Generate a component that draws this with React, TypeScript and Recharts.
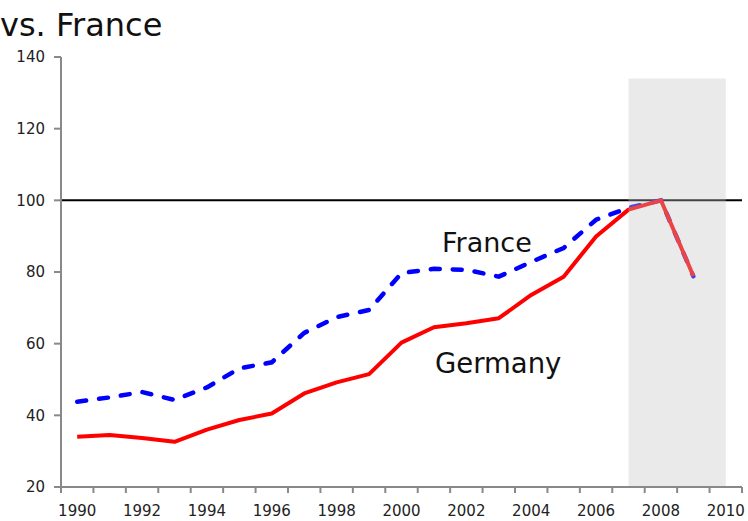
import React from 'react';
import { LineChart, Line, XAxis, YAxis, ReferenceArea, ReferenceLine } from 'recharts';

const years = [1990, 1991, 1992, 1993, 1994, 1995, 1996, 1997, 1998, 1999, 2000, 2001, 2002, 2003, 2004, 2005, 2006, 2007, 2008, 2009, 2010];
const germany = [34.0, 34.5, 33.7, 32.6, 36.0, 38.7, 40.5, 46.1, 49.2, 51.5, 60.3, 64.6, 65.7, 67.1, 73.6, 78.7, 89.9, 97.4, 100, 78.9, null];
const france = [43.8, 45.0, 46.5, 44.3, 47.8, 53.1, 54.8, 63.0, 67.4, 69.4, 79.7, 80.9, 80.6, 78.7, 82.8, 86.7, 94.6, 97.9, 100, 78.8, null];
const yTicks = [20, 40, 60, 80, 100, 120, 140];
const xLabelTicks = [1990, 1992, 1994, 1996, 1998, 2000, 2002, 2004, 2006, 2008, 2010];
const xBoundaryTicks = [...years.map((y) => y - 0.5), 2010.5];
const shadeStart = 2007;
const shadeEnd = 2010;
const shadeTop = 134;
const baseline = 100;

const data = years.map((year, i) => ({ year, germany: germany[i], france: france[i] }));

const FONT = '"DejaVu Sans", sans-serif';
const AXIS = '#898989';

export default function App() {
  return (
    <div style={{ position: 'absolute', left: 0, top: 0, width: 748, height: 521, background: '#fff' }}>
      <LineChart width={748} height={521} data={data} margin={{ top: 57, right: 6, bottom: 4, left: 0 }}>
        <XAxis
          xAxisId="grid"
          type="number"
          dataKey="year"
          domain={[1989.5, 2010.5]}
          ticks={xBoundaryTicks}
          interval={0}
          height={1}
          tickSize={6}
          tickFormatter={() => ''}
          axisLine={{ stroke: AXIS, strokeWidth: 2 }}
          tickLine={{ stroke: AXIS, strokeWidth: 2 }}
        />
        <XAxis
          xAxisId="yr"
          type="number"
          dataKey="year"
          domain={[1989.5, 2010.5]}
          ticks={xLabelTicks}
          interval={0}
          height={29}
          tickSize={6}
          tickMargin={11}
          axisLine={false}
          tickLine={false}
          tick={{ fontSize: 15, fill: '#222', fontFamily: FONT }}
        />
        <YAxis
          width={61}
          domain={[20, 140]}
          ticks={yTicks}
          interval={0}
          tickSize={7}
          tickMargin={9}
          axisLine={{ stroke: AXIS, strokeWidth: 2 }}
          tickLine={{ stroke: AXIS, strokeWidth: 2 }}
          tick={{ fontSize: 15, fill: '#222', fontFamily: FONT }}
        />
        <ReferenceLine xAxisId="yr" y={baseline} stroke="#000" strokeWidth={2} />
        <Line
          xAxisId="yr"
          type="linear"
          dataKey="france"
          stroke="#0000ff"
          strokeWidth={4.5}
          strokeDasharray="9 13"
          strokeLinecap="round"
          dot={false}
          isAnimationActive={false}
        />
        <Line
          xAxisId="yr"
          type="linear"
          dataKey="germany"
          stroke="#ff0000"
          strokeWidth={4}
          strokeLinejoin="round"
          dot={false}
          isAnimationActive={false}
        />
        <ReferenceArea
          xAxisId="yr"
          x1={shadeStart}
          x2={shadeEnd}
          y1={20}
          y2={shadeTop}
          fill="#c2c2c2"
          fillOpacity={0.35}
          stroke="none"
          zIndex={450}
        />
      </LineChart>
      <svg width={748} height={521} style={{ position: 'absolute', left: 0, top: 0, pointerEvents: 'none' }}>
        <text x={0} y={36} fontSize={32} fontFamily={FONT} fill="#111">vs. France</text>
        <text x={442} y={252} fontSize={27} fontFamily={FONT} fill="#111">France</text>
        <text x={435} y={373} fontSize={27.5} fontFamily={FONT} fill="#111">Germany</text>
      </svg>
    </div>
  );
}
